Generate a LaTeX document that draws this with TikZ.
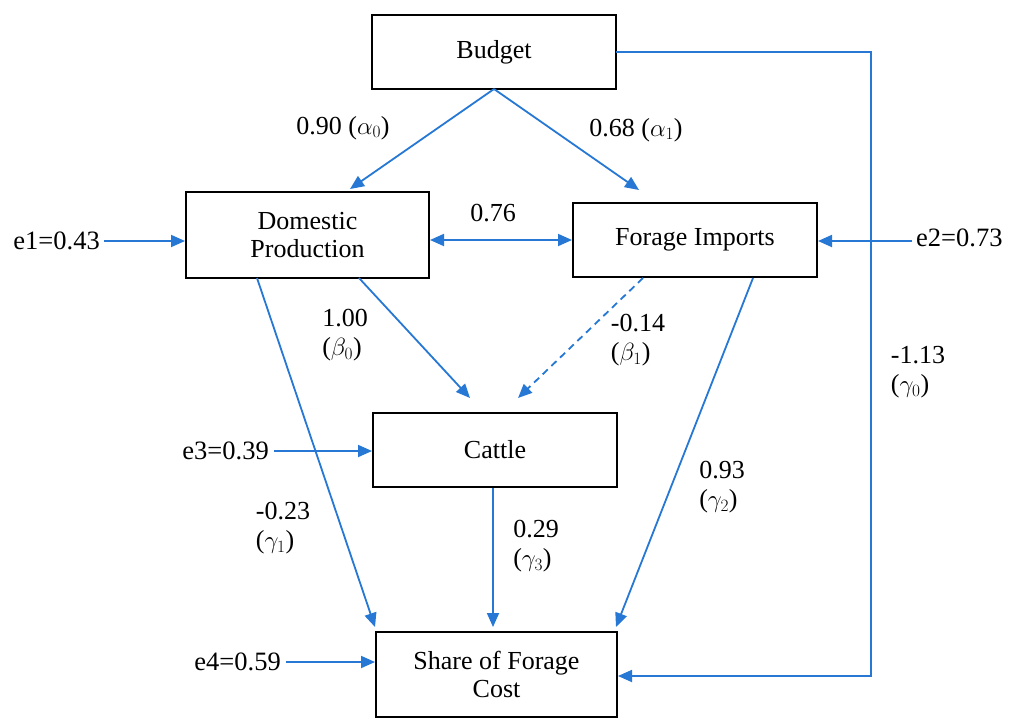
\documentclass[tikz,border=0pt]{standalone}
\usepackage{fontspec}
\setmainfont{Liberation Serif}
\usetikzlibrary{arrows.meta}
\definecolor{arr}{RGB}{38,120,212}
\begin{document}
\begin{tikzpicture}[x=1pt,y=-1pt,
  box/.style={draw=black,line width=2pt,minimum width=#1,align=center,inner sep=0pt,font=\fontsize{26}{28}\selectfont},
  box/.default=244pt,
  conn/.style={draw=arr,line width=1.8pt,-{Triangle[length=14pt,width=12pt]}},
  coef/.style={align=left,font=\fontsize{26}{29}\selectfont,inner sep=0pt},
  err/.style={font=\fontsize{26.5}{28}\selectfont,inner sep=0pt}]
\useasboundingbox (0,0) rectangle (1024,718);
\fill[white] (0,0) rectangle (1024,718);
% boxes
\node[box=244pt,minimum height=74pt] (bud) at (494,52) {Budget};
\node[box=243pt,minimum height=86pt] (dom) at (307.5,235) {Domestic\\Production};
\node[box=244pt,minimum height=74pt] (imp) at (695,240) {Forage Imports};
\node[box=244pt,minimum height=74pt] (cat) at (495,450) {Cattle};
\node[box=241pt,minimum height=85pt] (shr) at (496.5,674.5) {Share of Forage\\Cost};
% anchor coordinates
\coordinate (budB) at (494,89);
\coordinate (tDom) at (350,189);
\coordinate (tImp) at (639,190);
\coordinate (domB1) at (359,278);
\coordinate (domB2) at (257,278);
\coordinate (impB1) at (643,278);
\coordinate (impB2) at (753,278);
\coordinate (tCat1) at (470,398);
\coordinate (tCat2) at (518,398);
\coordinate (tShL) at (375,627);
\coordinate (tShM) at (493,627);
\coordinate (tShR) at (616,627);
\coordinate (catB) at (493,488);
\coordinate (budR) at (616,52);
\coordinate (corner1) at (871,52);
\coordinate (corner2) at (871,676);
% error terms
\node[err,anchor=east] (e1) at (100,241) {e1=0.43};
\node[err,anchor=west] (e2) at (916,238) {e2=0.73};
\node[err,anchor=east] (e3) at (269,451) {e3=0.39};
\node[err,anchor=east] (e4) at (281,662) {e4=0.59};
\draw[conn] (104,241) -- (dom.west |- 0,241);
\draw[conn] (912,241) -- (imp.east |- 0,241);
\draw[conn] (274,451) -- (cat.west |- 0,451);
\draw[conn] (286,662) -- (shr.west |- 0,662);
% paths
\draw[conn] (budB) -- (tDom);
\draw[conn] (budB) -- (tImp);
\draw[draw=arr,line width=1.8pt,{Triangle[length=14pt,width=12pt]}-{Triangle[length=14pt,width=12pt]}] (dom.east |- 0,240) -- (imp.west |- 0,240);
\draw[conn] (domB1) -- (tCat1);
\draw[conn,dashed,dash pattern=on 7pt off 5pt] (impB1) -- (tCat2);
\draw[conn] (domB2) -- (tShL);
\draw[conn] (impB2) -- (tShR);
\draw[conn] (catB) -- (tShM);
\draw[conn] (budR) -- (corner1) -- (corner2) -- (shr.east |- corner2);
% coefficient labels
\node[coef] (l1) at (343,128) {0.90 ($\alpha_0$)};
\node[coef] (l2) at (636,130) {0.68 ($\alpha_1$)};
\node[coef] (l3) at (493,213) {0.76};
\node[coef] (l4) at (345,335) {1.00\\($\beta_0$)};
\node[coef] (l5) at (638,340) {-0.14\\($\beta_1$)};
\node[coef] (l6) at (918,372) {-1.13\\($\gamma_0$)};
\node[coef] (l7) at (722,487) {0.93\\($\gamma_2$)};
\node[coef] (l8) at (283,528) {-0.23\\($\gamma_1$)};
\node[coef] (l9) at (536,546) {0.29\\($\gamma_3$)};
\end{tikzpicture}
\end{document}
